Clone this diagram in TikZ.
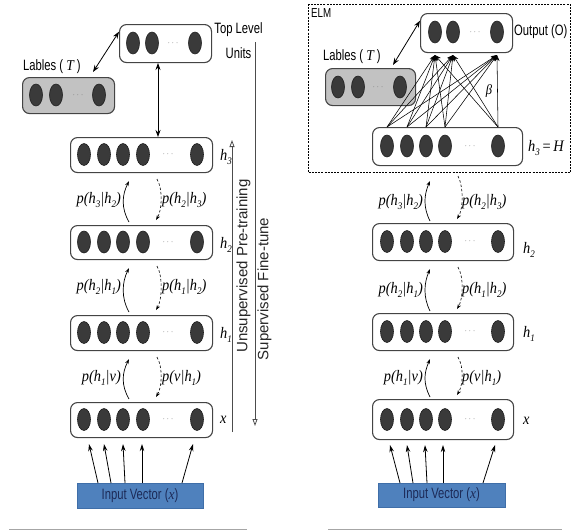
\documentclass[tikz,border=0pt]{standalone}
\usepackage{fontspec}
\setmainfont{Liberation Serif}
\newfontfamily\nsans{Liberation Sans}[FakeStretch=0.75]
\newfontfamily\wsans{Liberation Sans}
\newfontfamily\mserif{Liberation Serif}[FakeStretch=0.9]
\usetikzlibrary{shapes.geometric,arrows.meta,calc}
\definecolor{unitc}{HTML}{3A3A3A}
\definecolor{unitd}{HTML}{1E1E1E}
\definecolor{boxc}{HTML}{444444}
\definecolor{lblfill}{HTML}{C2C2C2}
\definecolor{inpfill}{HTML}{4F81BD}
\definecolor{inpdraw}{HTML}{3F6EA8}
\definecolor{inptext}{HTML}{1C2A57}
\newcommand\sbs[1]{\raisebox{-0.28em}{\fontsize{10}{10}\selectfont #1}}
\newcommand\mylbl[1]{{\mserif\itshape #1}}
\tikzset{
  unit/.style={ellipse, fill=unitc, draw=unitd, line width=0.6pt, minimum width=13pt, minimum height=22pt, inner sep=0pt},
  lay/.style={draw=boxc, line width=1.1pt, rounded corners=7pt, fill=white, inner sep=0pt, anchor=north west},
  lblbox/.style={lay, fill=lblfill},
  dotsn/.style={text=black!55, font=\fontsize{9}{9}\selectfont, inner sep=0pt},
  math/.style={font=\fontsize{16}{16}\selectfont\mserif\itshape, inner sep=0pt},
  sans/.style={font=\fontsize{15}{15}\selectfont\nsans, inner sep=0pt},
  upcurve/.style={line width=0.7pt, -{Stealth[length=5pt,width=3.5pt]}},
  dncurve/.style={line width=0.6pt, dash pattern=on 2.5pt off 2pt, -{Stealth[length=5pt,width=3.5pt]}},
  dbl/.style={line width=0.8pt, {Stealth[length=7pt,width=5pt]}-{Stealth[length=7pt,width=5pt]}},
  inarr/.style={line width=0.8pt, -{Stealth[length=7pt,width=4.5pt]}},
  elmarr/.style={line width=0.55pt, -{Stealth[length=6pt,width=5pt]}},
  openarr/.style={draw=black!70, line width=0.8pt, -{Triangle[open,length=7pt,width=5pt]}},
  inbox/.style={fill=inpfill, draw=inpdraw, line width=0.6pt, anchor=north west, inner sep=0pt},
  intext/.style={text=inptext, font=\fontsize{15}{15}\selectfont\nsans, inner sep=0pt}
}
\begin{document}
\begin{tikzpicture}[x=1pt,y=-1pt]
\useasboundingbox (0,0) rectangle (573,531);

%================ LEFT PANEL ================
% top level units
\node[lay, minimum width=92pt, minimum height=38pt] (TL) at (119,24) {};
\foreach \x [count=\i] in {133,152,195} \node[unit] (TLu\i) at (\x,43) {};
\node[dotsn] (TLd) at (173,43) {$\cdots$};
\node[align=center, inner sep=0pt, font=\fontsize{15}{25}\selectfont\nsans] (TLt) at (238.5,41) {Top Level\\Units};

% labels
\node[lblbox, minimum width=92pt, minimum height=36pt] (LB) at (22,77) {};
\foreach \x [count=\i] in {36,56,99} \node[unit] (LBu\i) at (\x,95) {};
\node[dotsn] (LBd) at (78,95) {$\cdots$};
\node[sans, anchor=west] (LBt) at (23,67) {Lables ( \mylbl{T} )};

% layers
\node[lay, minimum width=142pt, minimum height=35pt] (L3) at (70,137) {};
\node[lay, minimum width=142pt, minimum height=34pt] (L2) at (70,225) {};
\node[lay, minimum width=142pt, minimum height=35pt] (L1) at (70,315) {};
\node[lay, minimum width=142pt, minimum height=35pt] (L0) at (70,402) {};
\foreach \n/\y in {L3/154.5,L2/242,L1/332.5,L0/419.5}{
  \foreach \x [count=\i] in {84,104,123,143,197} \node[unit] (\n u\i) at (\x,\y) {};
  \node[dotsn] (\n d) at (168,\y) {$\cdots$};
}
\node[math, anchor=west] (L3t) at (220,157) {h\sbs{3}};
\node[math, anchor=west] (L2t) at (220,245) {h\sbs{2}};
\node[math, anchor=west] (L1t) at (220,335) {h\sbs{1}};
\node[math, anchor=west] (L0t) at (220,420) {x};

% arrows between top units
\coordinate (LBa) at (93,72);
\draw[dbl] (LBa) -- (TL.west |- TLu1.north);
\coordinate (TLb) at (158,63);
\coordinate (L3a) at (158,137);
\draw[dbl] (TLb) -- (L3a);

% curved arrows left
\foreach \lo/\hi/\py/\la/\lb in {L2/L3/200/{p(h\sbs{3}|h\sbs{2})}/{p(h\sbs{2}|h\sbs{3})},L1/L2/287/{p(h\sbs{2}|h\sbs{1})}/{p(h\sbs{1}|h\sbs{2})},L0/L1/378/{p(h\sbs{1}|v)}/{p(v|h\sbs{1})}}{
  \draw[upcurve] ($(\lo.north west)+(59,-3)$) .. controls +(-8,-14) and +(-7,14) .. ($(\hi.south west)+(59,8)$);
  \draw[dncurve] ($(\hi.south west)+(87,6)$) .. controls +(6,10) and +(6,-10) .. ($(\lo.north west)+(86,-5)$);
  \node[math, anchor=east] at (121,\py) {\la};
  \node[math, anchor=west] at (162,\py) {\lb};
}

% input vector
\node[inbox, minimum width=126pt, minimum height=25pt] (IV) at (77,483) {};
\node[intext] (IVt) at (140,495.5) {Input Vector (\mylbl{x})};
\foreach \sx/\ex in {98/89,111/104,125/123,142/142,182/193}
  \draw[inarr] (IV.north west -| \sx,0) -- ($(L0.south west -| \ex,0)+(0,6)$);

% training lines
\coordinate (UPb) at (232,432);
\coordinate (UPt) at (232,140);
\draw[openarr] (UPb) -- (UPt);
\coordinate (SFt) at (255,42);
\coordinate (SFb) at (255,426);
\draw[openarr] (SFt) -- (SFb);
\node[rotate=90, font=\fontsize{15}{15}\selectfont\wsans, text=black!85, inner sep=0pt] at (243.5,266) {Unsupervised Pre-training};
\node[rotate=90, font=\fontsize{15}{15}\selectfont\wsans, text=black!85, inner sep=0pt] at (264.5,289) {Supervised Fine-tune};

%================ RIGHT PANEL ================
\node[draw=black, line width=1pt, dash pattern=on 2pt off 1.2pt, minimum width=262pt, minimum height=168pt, anchor=north west, inner sep=0pt] (ELM) at (308,4) {};
\node[font=\fontsize{13}{13}\selectfont\nsans, anchor=north west, inner sep=0pt] (ELMt) at (311,8) {ELM};

\node[lay, minimum width=92pt, minimum height=39pt] (OB) at (420,13) {};
\foreach \x [count=\i] in {435,453,497} \node[unit] (OBu\i) at (\x,32) {};
\node[dotsn] (OBd) at (475,32) {$\cdots$};
\node[sans, anchor=west] (OBt) at (514,32) {Output (O)};

\node[lblbox, minimum width=90pt, minimum height=37pt] (RB) at (325,68) {};
\foreach \x [count=\i] in {338,358,400} \node[unit] (RBu\i) at (\x,87) {};
\node[dotsn] (RBd) at (378,87) {$\cdots$};
\node[sans, anchor=west] (RBt) at (323,57) {Lables ( \mylbl{T} )};
\coordinate (RBa) at (393,65);
\draw[dbl] (RBa) -- (OB.west |- OBu1.north);

\node[lay, minimum width=150pt, minimum height=38pt] (R3) at (372,127) {};
\node[lay, minimum width=141pt, minimum height=37pt] (R2) at (372,223) {};
\node[lay, minimum width=141pt, minimum height=37pt] (R1) at (372,313) {};
\node[lay, minimum width=141pt, minimum height=40pt] (R0) at (372,399) {};
\foreach \n/\y in {R3/146,R2/241.5,R1/331.5,R0/419.5}{
  \foreach \x [count=\i] in {387,407,426,445,498} \node[unit] (\n u\i) at (\x,\y) {};
  \node[dotsn] (\n d) at (470,\y) {$\cdots$};
}
\node[math, anchor=west] (R3t) at (528,148) {h\sbs{3}\,{\upshape =}\,H};
\node[math, anchor=west] (R2t) at (523,250) {h\sbs{2}};
\node[math, anchor=west] (R1t) at (523,334) {h\sbs{1}};
\node[math, anchor=west] (R0t) at (523,421) {x};

% full connections
\foreach \h in {1,...,5}
  \foreach \o in {1,2,3}
    \draw[elmarr] (R3.north -| R3u\h) -- ($(OB.south -| OBu\o)+(0,2)$);
\node[math, font=\fontsize{14}{14}\selectfont\mserif\itshape] (BETA) at (489,91) {β};

% curved arrows right
\draw[upcurve] ($(R2.north west)+(58,-2)$) .. controls +(-7,-14) and +(-6,14) .. ($(ELM.south west)+(122,8)$);
\draw[dncurve] ($(ELM.south west)+(150,3)$) .. controls +(6,12) and +(6,-10) .. ($(R2.north west)+(85,-4)$);
\draw[upcurve] ($(R1.north west)+(58,-2)$) .. controls +(-7,-14) and +(-6,14) .. ($(R2.south west)+(58,8)$);
\draw[dncurve] ($(R2.south west)+(86,6)$) .. controls +(6,10) and +(6,-10) .. ($(R1.north west)+(85,-4)$);
\draw[upcurve] ($(R0.north west)+(58,-2)$) .. controls +(-7,-14) and +(-6,14) .. ($(R1.south west)+(58,8)$);
\draw[dncurve] ($(R1.south west)+(86,6)$) .. controls +(6,10) and +(6,-10) .. ($(R0.north west)+(85,-4)$);
\node[math, anchor=east] at (423,202) {p(h\sbs{3}|h\sbs{2})};
\node[math, anchor=west] at (462,202) {p(h\sbs{2}|h\sbs{3})};
\node[math, anchor=east] at (423,290) {p(h\sbs{2}|h\sbs{1})};
\node[math, anchor=west] at (462,290) {p(h\sbs{1}|h\sbs{2})};
\node[math, anchor=east] at (423,378) {p(h\sbs{1}|v)};
\node[math, anchor=west] at (462,378) {p(v|h\sbs{1})};

\node[inbox, minimum width=127pt, minimum height=24pt] (RIV) at (378,483) {};
\node[intext] (RIVt) at (441.5,495) {Input Vector (\mylbl{x})};
\foreach \sx/\ex in {400/390,413/407,427/425,443/443,483/495}
  \draw[inarr] (RIV.north west -| \sx,0) -- ($(R0.south west -| \ex,0)+(0,5)$);

% bottom rules
\coordinate (BL1) at (9,529.5);
\coordinate (BL2) at (247,529.5);
\coordinate (BR1) at (328,529.5);
\coordinate (BR2) at (562,529.5);
\draw[black!35, line width=1.2pt] (BL1) -- (BL2);
\draw[black!35, line width=1.2pt] (BR1) -- (BR2);
\end{tikzpicture}
\end{document}
